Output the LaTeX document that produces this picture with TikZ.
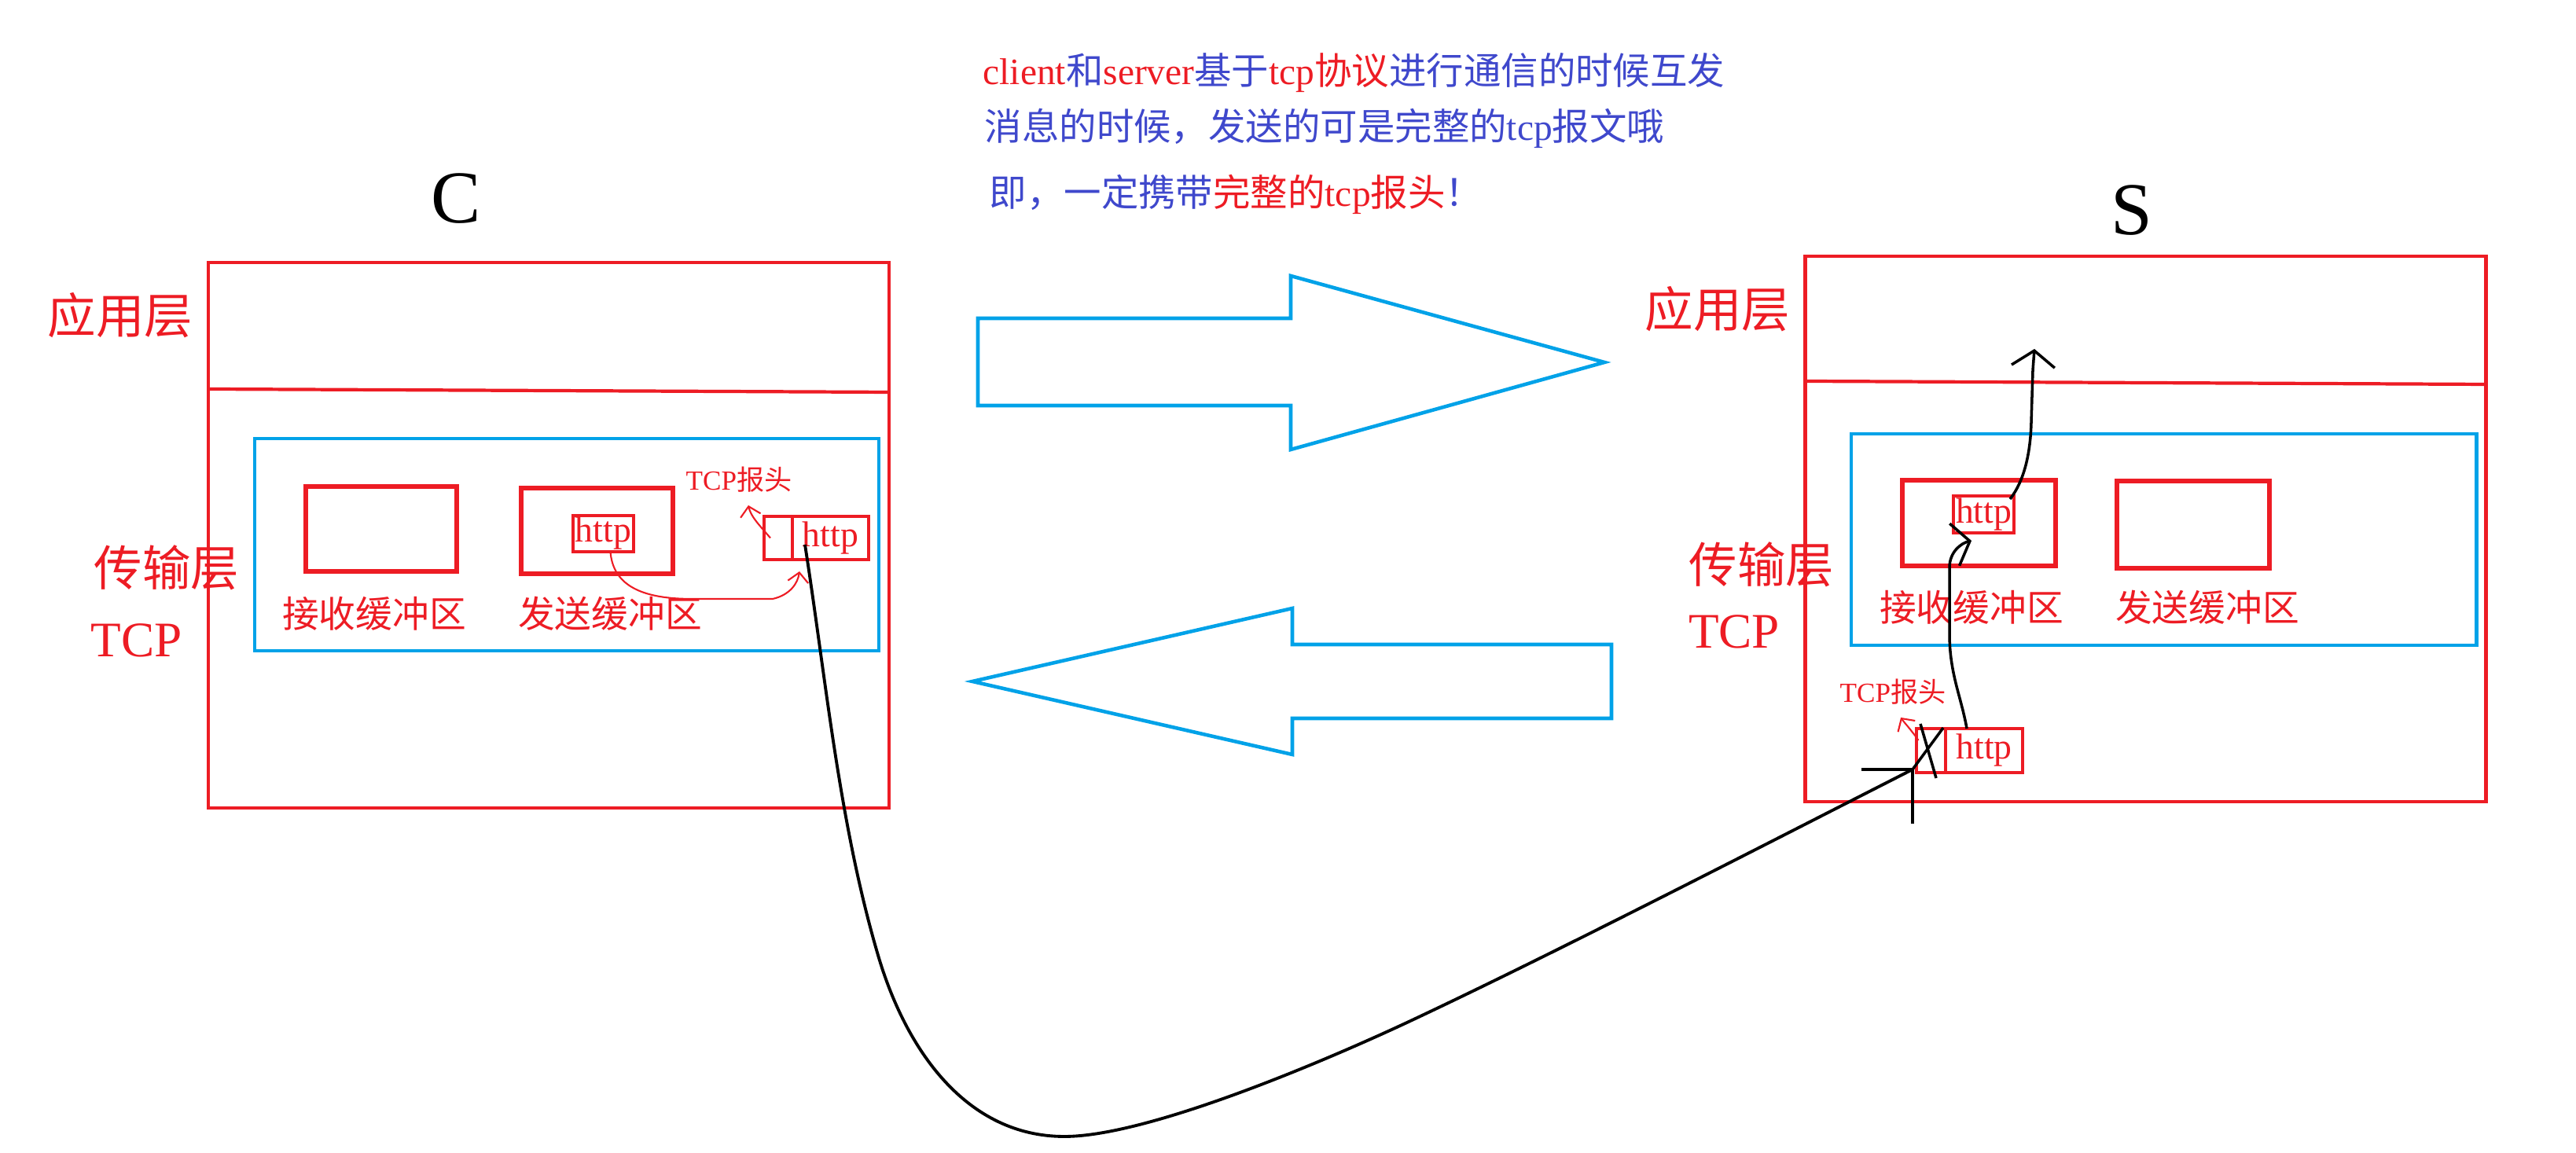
\documentclass[tikz,border=0pt]{standalone}
\usepackage{fontspec}
\setmainfont{Liberation Serif}
\newfontfamily\cjk{Noto Sans CJK SC}
\usetikzlibrary{arrows.meta,calc,positioning}
\definecolor{paintred}{RGB}{237,28,36}
\definecolor{paintcyan}{RGB}{0,162,232}
\definecolor{paintindigo}{RGB}{63,72,204}
\newcommand{\zhs}[1]{{\cjk #1}}
\tikzset{
  hostbox/.style={
    draw=paintred,
    line width=1.2pt,
    inner sep=0pt,
    outer sep=0pt,
    minimum width=8.66cm,
    minimum height=6.94cm
  },
  tcpbox/.style={
    draw=paintcyan,
    line width=1.4pt,
    inner sep=0pt,
    outer sep=0pt
  },
  bufbox/.style={
    draw=paintred,
    line width=1.6pt,
    inner sep=0pt,
    outer sep=0pt
  },
  pktbox/.style={
    draw=paintred,
    line width=1.3pt,
    inner sep=0pt,
    outer sep=0pt,
    text=paintred,
    font=\fontsize{13}{13}\selectfont
  },
  layerlbl/.style={
    text=paintred,
    inner sep=0pt,
    font=\fontsize{17.5}{17.5}\selectfont\cjk
  },
  tcplbl/.style={
    text=paintred,
    inner sep=0pt,
    font=\fontsize{18}{18}\selectfont
  },
  hostlbl/.style={
    inner sep=0pt,
    font=\fontsize{27}{27}\selectfont
  },
  buflbl/.style={
    text=paintred,
    inner sep=0pt,
    font=\fontsize{13.3}{13.3}\selectfont\cjk
  },
  hdrlbl/.style={
    text=paintred,
    inner sep=0pt,
    font=\fontsize{10}{10}\selectfont
  },
  note/.style={
    text=paintindigo,
    anchor=west,
    inner sep=0pt,
    font=\fontsize{13.5}{13.5}\selectfont
  },
  bigarrow/.style={
    draw=paintcyan,
    line width=1.3pt,
    line join=miter
  },
  handred/.style={
    -{Straight Barb[length=1.2mm,width=2.6mm]},
    draw=paintred,
    line width=0.6pt
  },
  handblack/.style={
    draw=black,
    line width=1pt
  },
  blackarrow/.style={
    -{Straight Barb[length=2mm,width=5.5mm]},
    draw=black,
    line width=1pt
  }
}
\begin{document}
\begin{tikzpicture}
\useasboundingbox (0,0) rectangle (32.77,14.67);

% note on top
\node[note] (note1) at (12.50,13.74) {\textcolor{paintred}{client}\zhs{和}\textcolor{paintred}{server}\zhs{基于}\textcolor{paintred}{tcp\zhs{协议}}\zhs{进行通信的时候互发}};
\node[note] (note2) at (12.52,13.04) {\zhs{消息的时候，发送的可是完整的}tcp\zhs{报文哦}};
\node[note] (note3) at (12.58,12.20) {\zhs{即，一定携带}\textcolor{paintred}{\zhs{完整的}tcp\zhs{报头}}\zhs{！}};

% client
\node[hostlbl] (clbl) at (5.80,12.14) {C};
\node[hostbox] (chost) at (6.98,7.86) {};
\draw[draw=paintred,line width=1.2pt] ([yshift=-1.61cm]chost.north west) -- ([yshift=-1.65cm]chost.north east);
\node[layerlbl] (capp) at (1.53,10.66) {应用层};
\node[layerlbl] (ctrans) at (2.12,7.45) {传输层};
\node[tcplbl] (ctcp) at (1.74,6.52) {TCP};
\node[tcpbox,minimum width=7.94cm,minimum height=2.70cm] (ctcpbox) at (7.21,7.74) {};
\node[bufbox,minimum width=1.92cm,minimum height=1.08cm] (crecv) at (4.85,7.94) {};
\node[bufbox,minimum width=1.93cm,minimum height=1.09cm] (csend) at (7.595,7.915) {};
\node[pktbox,minimum width=0.77cm,minimum height=0.46cm] (cinner) at (7.675,7.88) {http};
\node[pktbox,minimum width=0.36cm,minimum height=0.55cm] (chdr) at (9.90,7.825) {};
\node[pktbox,minimum width=0.97cm,minimum height=0.55cm,right=0pt of chdr] (cpay) {http};
\node[buflbl] (crecvlbl) at (4.76,6.86) {接收缓冲区};
\node[buflbl] (csendlbl) at (7.76,6.86) {发送缓冲区};
\node[hdrlbl] (chdrlbl) at (9.40,8.57) {TCP\zhs{报头}};

% server
\node[hostlbl] (slbl) at (27.12,11.99) {S};
\node[hostbox] (shost) at (27.295,7.94) {};
\draw[draw=paintred,line width=1.2pt] ([yshift=-1.59cm]shost.north west) -- ([yshift=-1.63cm]shost.north east);
\node[layerlbl] (sapp) at (21.85,10.74) {应用层};
\node[layerlbl] (strans) at (22.41,7.49) {传输层};
\node[tcplbl] (stcp) at (22.06,6.63) {TCP};
\node[tcpbox,minimum width=7.95cm,minimum height=2.69cm] (stcpbox) at (27.525,7.805) {};
\node[bufbox,minimum width=1.95cm,minimum height=1.09cm] (srecv) at (25.175,8.015) {};
\node[pktbox,minimum width=0.77cm,minimum height=0.47cm] (sinner) at (25.235,8.125) {http};
\node[bufbox,minimum width=1.94cm,minimum height=1.11cm] (ssend) at (27.90,7.995) {};
\node[pktbox,minimum width=0.37cm,minimum height=0.56cm] (shdr) at (24.565,5.12) {};
\node[pktbox,minimum width=0.98cm,minimum height=0.56cm,right=0pt of shdr] (spay) {http};
\node[buflbl] (srecvlbl) at (25.08,6.94) {接收缓冲区};
\node[buflbl] (ssendlbl) at (28.08,6.94) {发送缓冲区};
\node[hdrlbl] (shdrlbl) at (24.08,5.87) {TCP\zhs{报头}};

% big arrows
\draw[bigarrow] (12.44,10.62) -- (16.42,10.62) -- (16.42,11.16) -- (20.41,10.06) -- (16.42,8.95) -- (16.42,9.51) -- (12.44,9.51) -- cycle;
\draw[bigarrow] (20.50,6.47) -- (16.44,6.47) -- (16.44,6.93) -- (12.37,6.00) -- (16.44,5.07) -- (16.44,5.53) -- (20.50,5.53) -- cycle;

% client side
\draw[handred] ([xshift=0.9mm]cinner.south) .. controls (7.80,7.20) and (8.20,7.05) .. (8.80,7.05) -- (9.83,7.05) .. controls (10.05,7.10) and (10.15,7.25) .. ([xshift=0.9mm,yshift=-1.5mm]cpay.south west);
\draw[handred] ([xshift=-1mm]chdr.center) .. controls (9.65,8.00) and (9.55,8.10) .. ([xshift=1.2mm,yshift=-1.6mm]chdrlbl.south);

% server side
\draw[handred] ([xshift=-1.6mm,yshift=1.3mm]shdr.center) .. controls (24.30,5.40) and (24.22,5.48) .. ([xshift=1mm,yshift=-1.6mm]shdrlbl.south);
\draw[blackarrow] ([xshift=2.7mm]spay.north west) .. controls (24.95,5.80) and (24.80,6.10) .. (24.80,6.60) -- (24.80,7.45) .. controls (24.80,7.65) and (24.95,7.76) .. ([xshift=2.3mm,yshift=-1mm]sinner.south west);
\coordinate (apptop) at (25.88,10.23);
\draw[blackarrow] ([xshift=-0.5mm,yshift=-0.4mm]sinner.north east) .. controls (25.75,8.55) and (25.83,8.90) .. (25.84,9.30) -- (25.86,9.96) -- (apptop);

% segment travels from C to S
\coordinate (cstart) at ([xshift=1.6mm,yshift=1.9mm]cpay.south west);
\coordinate (xtip) at ([xshift=-0.5mm,yshift=0.4mm]shdr.south west);
\draw[handblack,line width=1.1pt] (cstart) .. controls (10.51,6.01) and (10.67,4.23) .. (11.16,2.55)
  .. controls (11.52,1.30) and (12.30,0.21) .. (13.54,0.21)
  .. controls (14.60,0.21) and (16.83,1.16) .. (17.92,1.67)
  .. controls (19.73,2.52) and (22.23,3.81) .. (xtip);
\draw[handblack] (xtip) -- ++(-0.65,0) (xtip) -- ++(0,-0.69);
\draw[handblack] (xtip) -- ([xshift=-0.3mm,yshift=0.1mm]shdr.north east);
\draw[handblack] ([xshift=0.5mm,yshift=0.6mm]shdr.north west) -- ([xshift=-1.2mm,yshift=-0.7mm]shdr.south east);
\end{tikzpicture}
\end{document}
